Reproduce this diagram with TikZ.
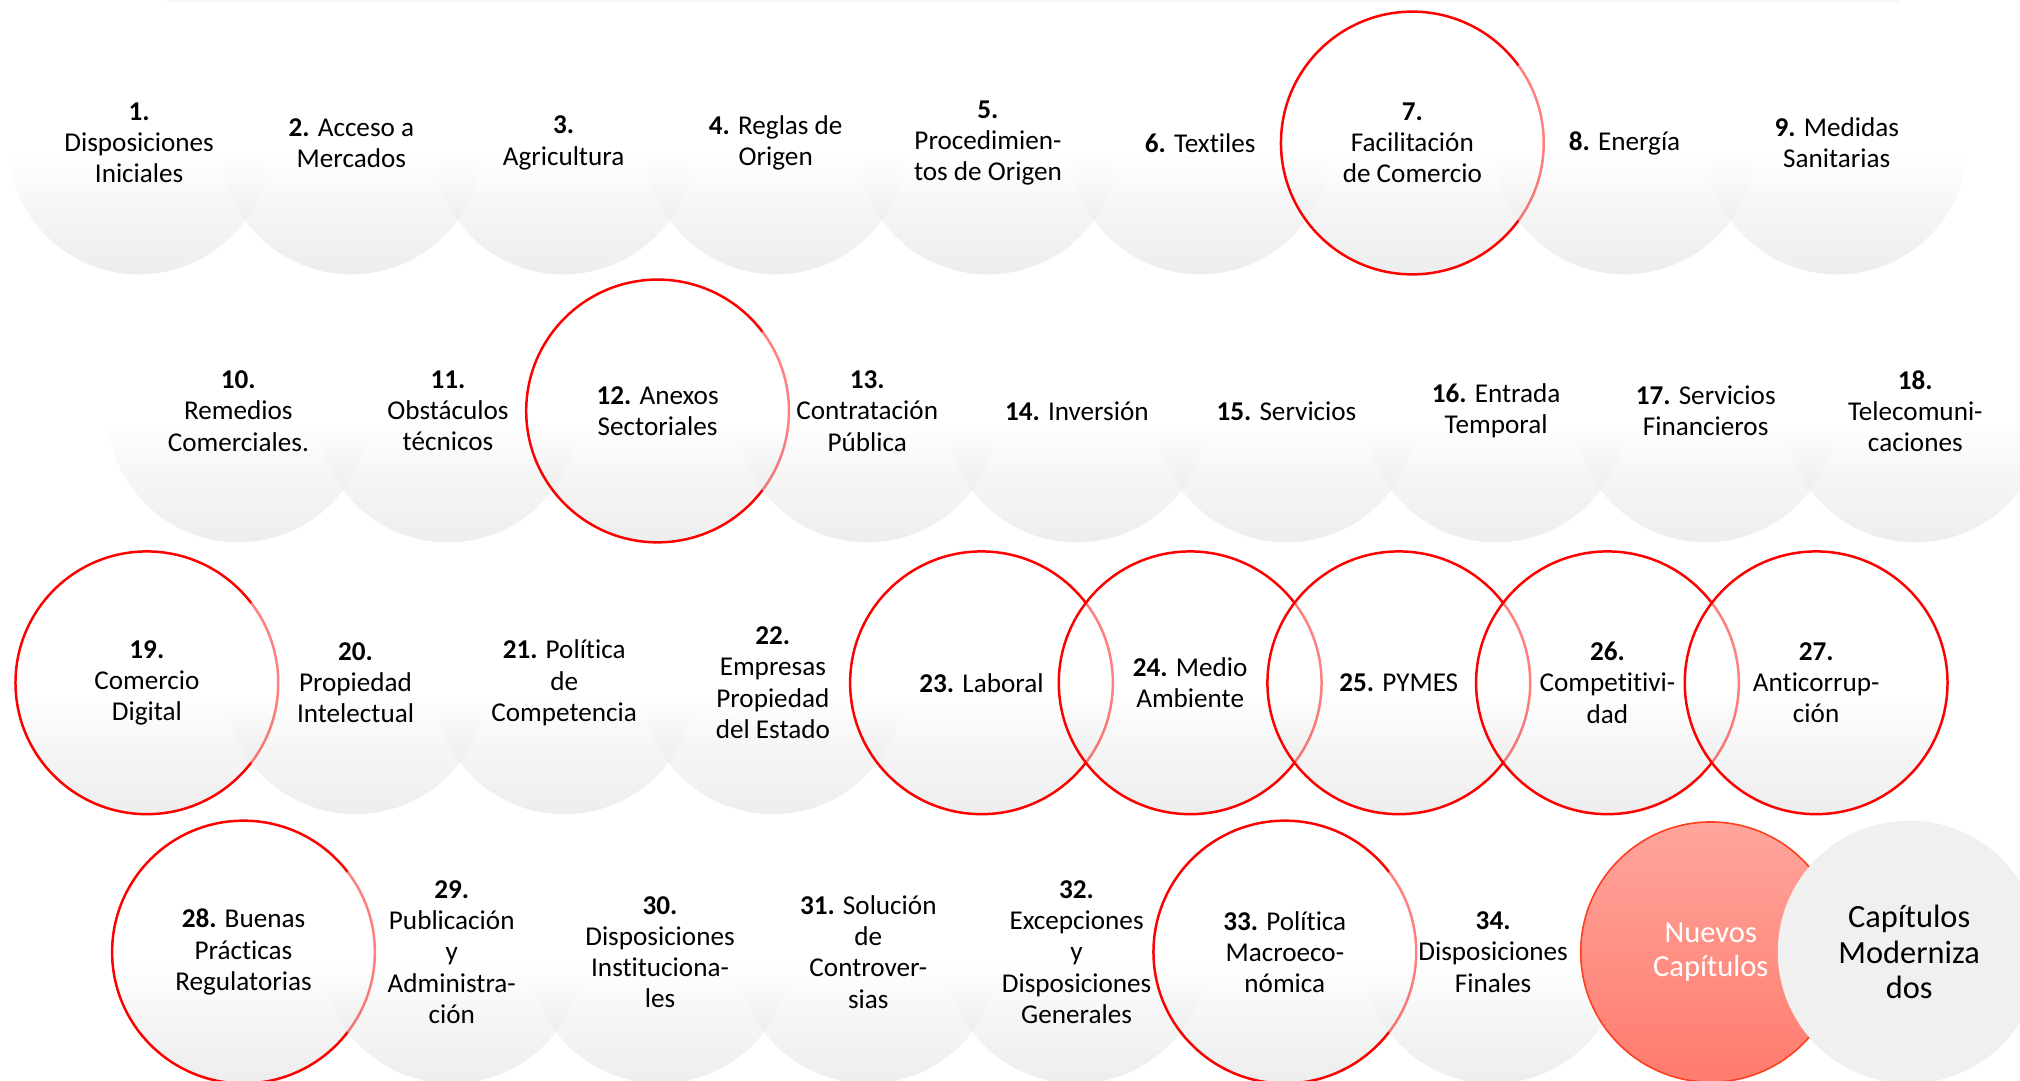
\documentclass[tikz,border=0pt]{standalone}
\usepackage{fontspec}
\setmainfont{Carlito}[Ligatures={TeX,NoCommon}]
\usepackage{tikz}
\usetikzlibrary{positioning}
\definecolor{chapred}{HTML}{FF0000}
\definecolor{chapgray}{HTML}{DCDCDC}
\definecolor{modgray}{HTML}{F0F0F0}
\definecolor{newtop}{HTML}{FFA59C}
\definecolor{newbottom}{HTML}{FF7B6D}
\definecolor{newedge}{HTML}{FF3D1F}
\pgfdeclareverticalshading{topicshade}{100bp}{color(0bp)=(chapgray); color(25bp)=(chapgray); color(37bp)=(chapgray!55); color(48bp)=(white); color(100bp)=(white)}
\tikzstyle{topic} = [circle, minimum size=4.08cm, inner sep=0pt, outer sep=0pt, shading=topicshade, fill opacity=0.5]
\tikzstyle{keytopic} = [topic, draw=chapred, line width=1.1pt]
\tikzstyle{newtopic} = [circle, minimum size=4.04cm, inner sep=0pt, top color=newtop, bottom color=newbottom, draw=newedge, line width=0.7pt]
\tikzstyle{modtopic} = [circle, minimum size=4.08cm, inner sep=0pt, fill=modgray]
\tikzstyle{tag} = [align=center, inner sep=0pt, font=\fontsize{12}{13.8}\selectfont]

\begin{document}
\begin{tikzpicture}[x=0.02cm,y=-0.02cm]
		\useasboundingbox (0,0) rectangle (1568,839);
		\clip (0,0) rectangle (1568,839);
		\fill[black!3] (130,0) rectangle (1475,1.5);
		
		\begin{scope}[node distance=3.295cm]
		\node (c1) [topic] at (108,111) {};
		\node (c2) [topic, right of=c1] {};
		\node (c3) [topic, right of=c2] {};
		\node (c4) [topic, right of=c3] {};
		\node (c5) [topic, right of=c4] {};
		\node (c6) [topic, right of=c5] {};
		\node (c7) [keytopic, right of=c6] {};
		\node (c8) [topic, right of=c7] {};
		\node (c9) [topic, right of=c8] {};
		\end{scope}
		
		\begin{scope}[node distance=3.255cm]
		\node (c10) [topic] at (185,319) {};
		\node (c11) [topic, right of=c10] {};
		\node (c12) [keytopic, right of=c11] {};
		\node (c13) [topic, right of=c12] {};
		\node (c14) [topic, right of=c13] {};
		\node (c15) [topic, right of=c14] {};
		\node (c16) [topic, right of=c15] {};
		\node (c17) [topic, right of=c16] {};
		\node (c18) [topic, right of=c17] {};
		\end{scope}
		
		\begin{scope}[node distance=3.24cm]
		\node (c19) [keytopic] at (114,530) {};
		\node (c20) [topic, right of=c19] {};
		\node (c21) [topic, right of=c20] {};
		\node (c22) [topic, right of=c21] {};
		\node (c23) [keytopic, right of=c22] {};
		\node (c24) [keytopic, right of=c23] {};
		\node (c25) [keytopic, right of=c24] {};
		\node (c26) [keytopic, right of=c25] {};
		\node (c27) [keytopic, right of=c26] {};
		\end{scope}
		
		\begin{scope}[node distance=3.234cm]
		\node (c28) [keytopic] at (189,739) {};
		\node (c29) [topic, right of=c28] {};
		\node (c30) [topic, right of=c29] {};
		\node (c31) [topic, right of=c30] {};
		\node (c32) [topic, right of=c31] {};
		\node (c33) [keytopic, right of=c32] {};
		\node (c34) [topic, right of=c33] {};
		\end{scope}
		\node (new) [newtopic, node distance=3.38cm, right of=c34] {};
		\node (mod) [modtopic, node distance=3.08cm, right of=new] {};
		
		\node (t1) [tag] at (c1) {\textbf{1.}\\Disposiciones\\Iniciales};
		\node (t2) [tag] at (c2) {\textbf{2.} Acceso a\\Mercados};
		\node (t3) [tag] at (c3) {\textbf{3.}\\Agricultura};
		\node (t4) [tag] at (c4) {\textbf{4.} Reglas de\\Origen};
		\node (t5) [tag] at (c5) {\textbf{5.}\\Procedimien-\\tos de Origen};
		\node (t6) [tag] at (c6) {\textbf{6.} Textiles};
		\node (t7) [tag] at (c7) {\textbf{7.}\\Facilitación\\de Comercio};
		\node (t8) [tag] at (c8) {\textbf{8.} Energía};
		\node (t9) [tag] at (c9) {\textbf{9.} Medidas\\Sanitarias};
		
		\node (t10) [tag] at (c10) {\textbf{10.}\\Remedios\\Comerciales.};
		\node (t11) [tag] at (c11) {\textbf{11.}\\Obstáculos\\técnicos};
		\node (t12) [tag] at (c12) {\textbf{12.} Anexos\\Sectoriales};
		\node (t13) [tag] at (c13) {\textbf{13.}\\Contratación\\Pública};
		\node (t14) [tag] at (c14) {\textbf{14.} Inversión};
		\node (t15) [tag] at (c15) {\textbf{15.} Servicios};
		\node (t16) [tag] at (c16) {\textbf{16.} Entrada\\Temporal};
		\node (t17) [tag] at (c17) {\textbf{17.} Servicios\\Financieros};
		\node (t18) [tag] at (c18) {\textbf{18.}\\Telecomuni-\\caciones};
		
		\node (t19) [tag] at (c19) {\textbf{19.}\\Comercio\\Digital};
		\node (t20) [tag] at (c20) {\textbf{20.}\\Propiedad\\Intelectual};
		\node (t21) [tag] at (c21) {\textbf{21.} Política\\de\\Competencia};
		\node (t22) [tag] at (c22) {\textbf{22.}\\Empresas\\Propiedad\\del Estado};
		\node (t23) [tag] at (c23) {\textbf{23.} Laboral};
		\node (t24) [tag] at (c24) {\textbf{24.} Medio\\Ambiente};
		\node (t25) [tag] at (c25) {\textbf{25.} PYMES};
		\node (t26) [tag] at (c26) {\textbf{26.}\\Competitivi-\\dad};
		\node (t27) [tag] at (c27) {\textbf{27.}\\Anticorrup-\\ción};
		
		\node (t28) [tag] at (c28) {\textbf{28.} Buenas\\Prácticas\\Regulatorias};
		\node (t29) [tag] at (c29) {\textbf{29.}\\Publicación\\y\\Administra-\\ción};
		\node (t30) [tag] at (c30) {\textbf{30.}\\Disposiciones\\Instituciona-\\les};
		\node (t31) [tag] at (c31) {\textbf{31.} Solución\\de\\Controver-\\sias};
		\node (t32) [tag] at (c32) {\textbf{32.}\\Excepciones\\y\\Disposiciones\\Generales};
		\node (t33) [tag] at (c33) {\textbf{33.} Política\\Macroeco-\\nómica};
		\node (t34) [tag] at (c34) {\textbf{34.}\\Disposiciones\\Finales};
		\node (tnew) [tag, text=white, font=\fontsize{13.5}{14.7}\selectfont] at (new) {Nuevos\\Capítulos};
		\node (tmod) [tag, font=\fontsize{14.3}{15.6}\selectfont] at (mod) {Capítulos\\Moderniza\\dos};
	\end{tikzpicture}
\end{document}
